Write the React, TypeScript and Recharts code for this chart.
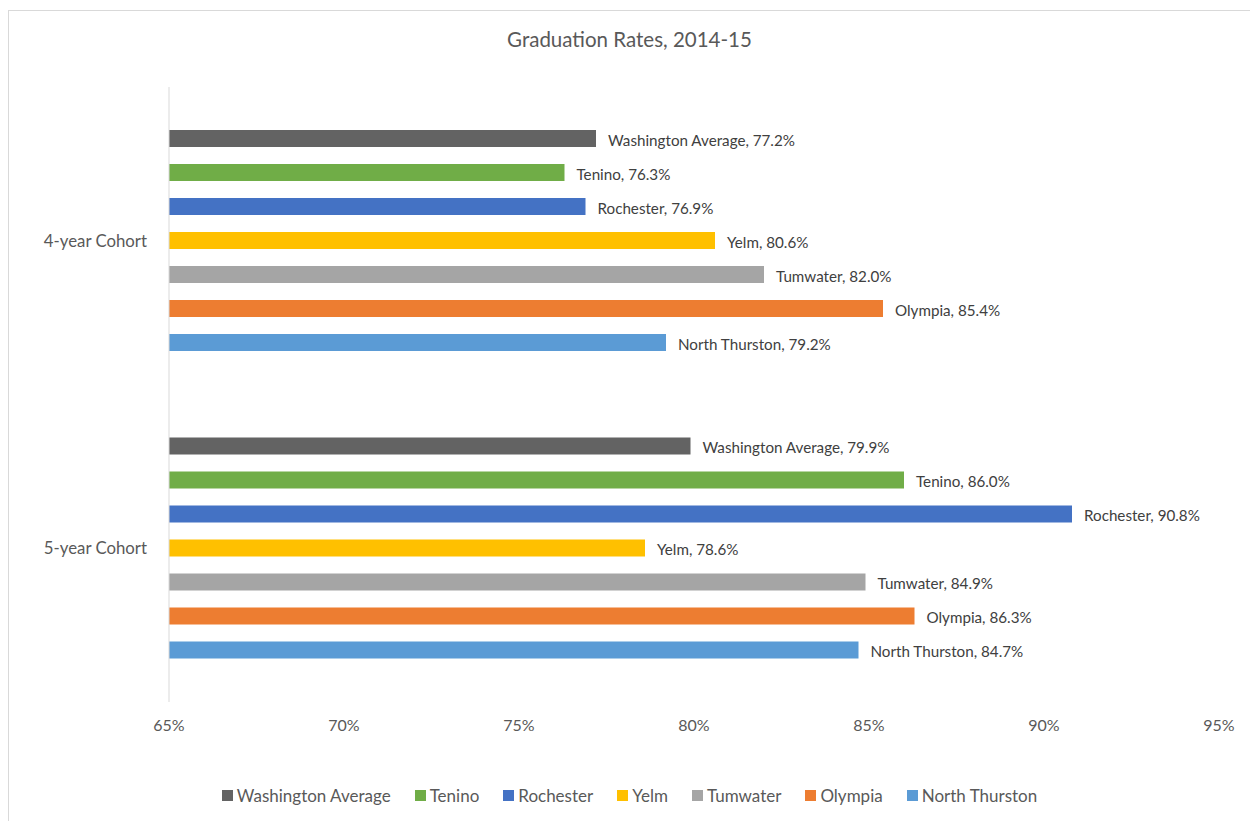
import React from "react";
import { BarChart, Bar, XAxis, YAxis, Legend, LabelList } from "recharts";

const cohorts = ["4-year Cohort", "5-year Cohort"];
const seriesNames = ["Washington Average", "Tenino", "Rochester", "Yelm", "Tumwater", "Olympia", "North Thurston"];
const seriesKeys = ["wa", "tenino", "rochester", "yelm", "tumwater", "olympia", "northThurston"];
const seriesColors = ["#636363", "#70AD47", "#4472C4", "#FFC000", "#A5A5A5", "#ED7D31", "#5B9BD5"];
const washingtonAverage = [77.2, 79.9];
const tenino = [76.3, 86.0];
const rochester = [76.9, 90.8];
const yelm = [80.6, 78.6];
const tumwater = [82.0, 84.9];
const olympia = [85.4, 86.3];
const northThurston = [79.2, 84.7];
const xTicks = [65, 70, 75, 80, 85, 90, 95];

const seriesValues = [washingtonAverage, tenino, rochester, yelm, tumwater, olympia, northThurston];

const data = cohorts.map((c, i) => {
  const row: any = { cohort: c };
  seriesKeys.forEach((k, j) => {
    row[k] = seriesValues[j][i];
  });
  return row;
});

const FONT = "Lato, 'Open Sans', sans-serif";

const makeLabel = (name: string) => (props: any) => {
  const { x, y, width, height, value } = props;
  return (
    <text
      x={x + width + 12}
      y={y + height / 2 + 1}
      dominantBaseline="central"
      fill="#404040"
      fontSize={15.2}
      fontFamily={FONT}
    >
      {`${name}, ${Number(value).toFixed(1)}%`}
    </text>
  );
};

const LegendContent = () => (
  <div
    style={{
      display: "flex",
      justifyContent: "center",
      alignItems: "center",
      fontFamily: FONT,
      fontSize: 17,
      color: "#595959",
      height: 30,
    }}
  >
    {seriesNames.map((n, i) => (
      <div key={n} style={{ display: "flex", alignItems: "center", marginRight: i < seriesNames.length - 1 ? 24 : 0 }}>
        <span style={{ display: "inline-block", width: 11, height: 11, background: seriesColors[i], marginRight: 4 }} />
        <span>{n}</span>
      </div>
    ))}
  </div>
);

export default function App() {
  return (
    <div
      style={{
        position: "absolute",
        left: 8,
        top: 10,
        width: 1241,
        height: 810,
        borderTop: "1px solid #d9d9d9",
        borderLeft: "1px solid #d9d9d9",
        background: "#fff",
      }}
    >
      <div
        style={{
          position: "absolute",
          top: 16,
          left: 0,
          width: 1241,
          textAlign: "center",
          fontFamily: FONT,
          fontSize: 20.5,
          color: "#595959",
        }}
      >
        Graduation Rates, 2014-15
      </div>
      <BarChart
        width={1241}
        height={810}
        data={data}
        layout="vertical"
        margin={{ top: 76, right: 31, left: 10, bottom: 49 }}
        barSize={17}
        barGap={17}
      >
        <XAxis
          type="number"
          domain={[65, 95]}
          ticks={xTicks}
          tickFormatter={(v: number) => `${v}%`}
          axisLine={false}
          tickLine={false}
          tickMargin={12}
          height={40}
          tick={{ fill: "#595959", fontSize: 16, fontFamily: FONT }}
          interval={0}
        />
        <YAxis
          type="category"
          dataKey="cohort"
          width={150}
          axisLine={{ stroke: "#d9d9d9" }}
          tickLine={false}
          tickMargin={16}
          tick={{ fill: "#595959", fontSize: 16.8, fontFamily: FONT }}
        />
        <Legend verticalAlign="bottom" content={<LegendContent />} wrapperStyle={{ top: 769, left: 0, width: 1241 }} />
        {seriesKeys.map((k, i) => (
          <Bar key={k} dataKey={k} name={seriesNames[i]} fill={seriesColors[i]} isAnimationActive={false}>
            <LabelList dataKey={k} content={makeLabel(seriesNames[i])} />
          </Bar>
        ))}
      </BarChart>
    </div>
  );
}
